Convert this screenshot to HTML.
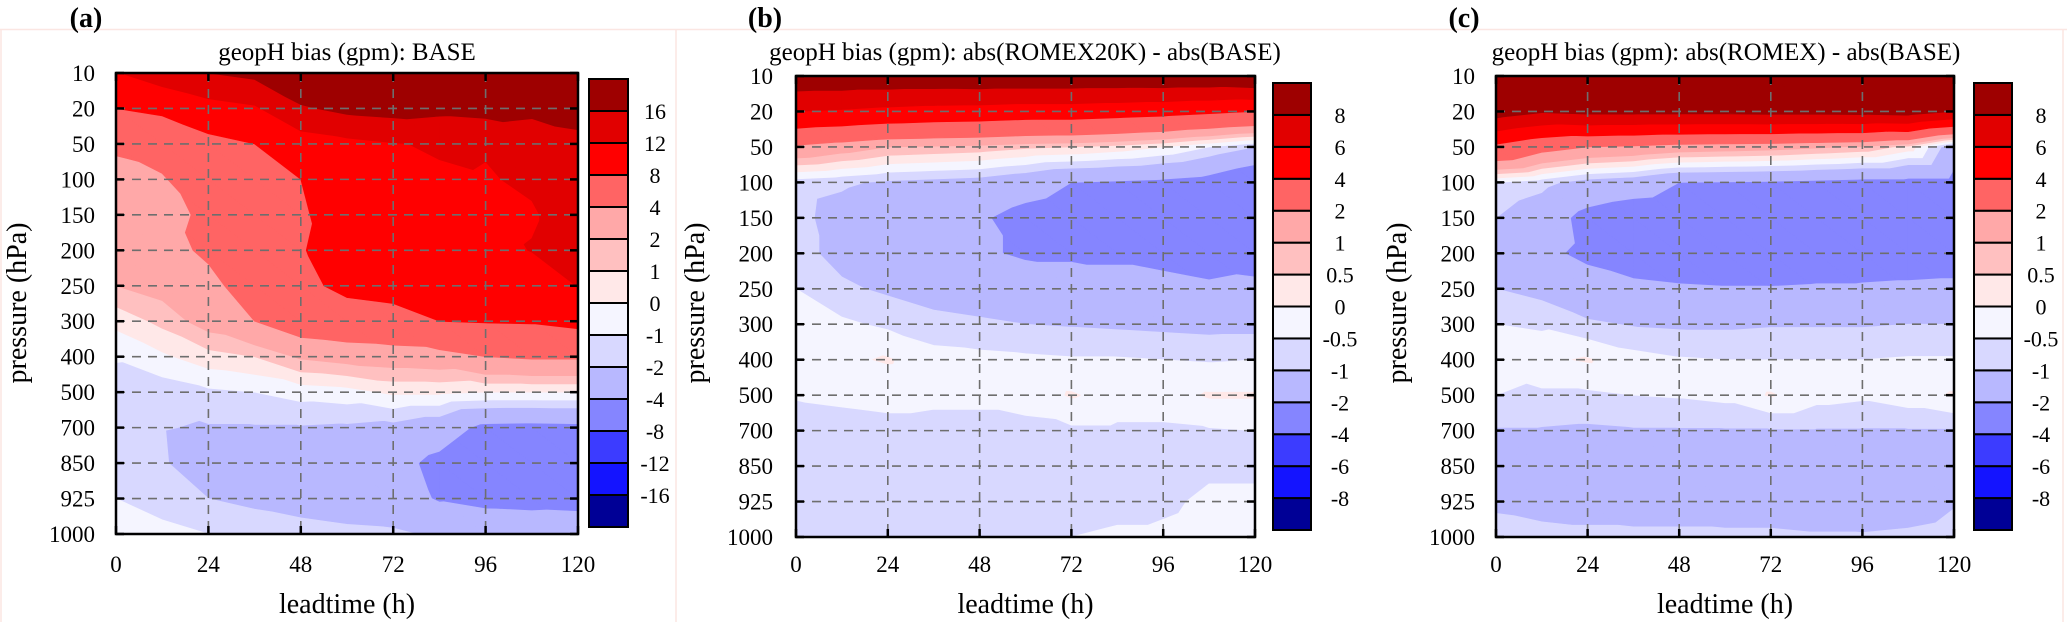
<!DOCTYPE html>
<html><head><meta charset="utf-8"><style>
html,body{margin:0;padding:0;background:#fff;}
svg{display:block;}
svg text{font-family:"Liberation Serif","Times New Roman",serif;}
</style></head><body>
<svg id="fig" width="2067" height="622" viewBox="0 0 2067 622" xmlns="http://www.w3.org/2000/svg">
<rect x="0" y="0" width="2067" height="622" fill="#fff"/>
<line x1="0" y1="29.5" x2="2067" y2="29.5" stroke="#fbe6e2" stroke-width="1.5"/>
<line x1="1" y1="29" x2="1" y2="622" stroke="#fbe6e2" stroke-width="1.5"/>
<line x1="676" y1="29" x2="676" y2="622" stroke="#fbe6e2" stroke-width="1.5"/>
<line x1="2063" y1="29" x2="2063" y2="622" stroke="#fbe6e2" stroke-width="1.5"/>
</svg>
<script>
const hours = [0,12,24,36,48,60,72,84,96,108,120];
const xTicks = [0,24,48,72,96,120];
const pressureLabels = ["10","20","50","100","150","200","250","300","400","500","700","850","925","1000"];
const boundsA = [-16,-12,-8,-4,-2,-1,0,1,2,4,8,12,16];
const boundsBC = [-8,-6,-4,-2,-1,-0.5,0,0.5,1,2,4,6,8];
const cbLabelsA = ["16","12","8","4","2","1","0","-1","-2","-4","-8","-12","-16"];
const cbLabelsBC = ["8","6","4","2","1","0.5","0","-0.5","-1","-2","-4","-6","-8"];
const bandColors = ["#000096","#1414ff","#3c3cff","#8585ff","#b8b8ff","#d8d8ff","#f5f5ff","#ffe8e8","#ffc0c0","#ffa8a8","#ff6464","#ff0000","#e10000","#9e0000"];
const valuesA = [
[11.8,14,16,17,20,20,21,22,22,22,22],
[8.0,8.8,10.5,11.5,15.5,17,17.5,17,17.5,17,17.5],
[4.2,5.0,7.0,8.0,10,11,11.8,12.4,12.15,13.5,15],
[3.6,3.8,5.5,7,8.0,10.5,11,11.5,11.85,12.3,14],
[3.2,3.5,4.3,6.5,7.5,10,10.5,11,11.5,11.8,13],
[2.8,3.0,4.5,6,7.8,9.5,10,10.5,11,12.1,13],
[2.0,2.5,3.2,5.5,7,9,9.5,9.5,10,10,12.1],
[0.3,1.3,2.6,4.0,5.5,6.0,6.5,8.0,8.2,8.3,9],
[-0.9,-0.2,0.6,1.0,2.2,2.6,2.8,3.0,4.0,4.3,4.3],
[-1.5,-1.6,-1.2,-1.0,-0.6,-0.4,0.2,0.2,0.0,0.0,0.0],
[-1.8,-1.95,-2.1,-2.1,-2.1,-2.2,-2.4,-3.0,-4.5,-4.6,-4.5],
[-1.8,-1.9,-2.6,-2.8,-3.0,-3.2,-3.4,-4.5,-6,-6.2,-6.5],
[-1.0,-1.3,-2.0,-2.3,-2.6,-2.8,-3.0,-4.2,-4.8,-5.0,-5.2],
[-0.6,-0.8,-1.0,-1.3,-1.5,-1.7,-1.8,-2.2,-2.0,-2.1,-1.9]];
const valuesB = [
[9.5,9.5,9.5,9.5,9.6,9.6,9.6,9.6,9.7,9.7,10],
[6.0,5.8,5.5,5.3,5.2,5.0,5.0,4.8,4.6,4.3,4.0],
[1.8,1.4,1.0,0.9,0.8,0.6,0.5,0.3,0.0,-0.5,-1.0],
[-0.75,-0.9,-1.1,-1.2,-1.3,-1.6,-2.0,-2.1,-2.2,-2.4,-3.0],
[-0.8,-1.3,-1.6,-1.7,-1.9,-2.3,-2.5,-2.6,-2.7,-2.8,-3.0],
[-0.8,-1.2,-1.6,-1.8,-1.9,-2.1,-2.1,-2.1,-2.2,-2.3,-2.4],
[-0.5,-0.9,-1.1,-1.3,-1.4,-1.6,-1.7,-1.8,-1.8,-1.9,-1.8],
[-0.3,-0.4,-0.6,-0.8,-0.9,-1.0,-1.05,-1.1,-1.15,-1.2,-1.2],
[-0.2,-0.1,0.05,-0.3,-0.35,-0.4,-0.45,-0.45,-0.5,-0.55,-0.5],
[-0.45,-0.4,-0.35,-0.4,-0.4,-0.3,0.05,-0.2,-0.2,0.05,0.05],
[-0.8,-0.7,-0.65,-0.65,-0.65,-0.65,-0.6,-0.6,-0.6,-0.55,-0.5],
[-0.7,-0.75,-0.75,-0.75,-0.75,-0.75,-0.7,-0.7,-0.65,-0.55,-0.55],
[-0.7,-0.75,-0.8,-0.8,-0.8,-0.75,-0.65,-0.6,-0.55,-0.45,-0.45],
[-0.75,-0.8,-0.85,-0.85,-0.85,-0.7,-0.5,-0.45,-0.45,-0.4,-0.35]];
const valuesC = [
[9.5,9.5,9.5,9.5,9.5,9.5,9.5,9.5,9.5,9.5,9.5],
[9.0,8.2,8.5,8.5,8.5,8.5,8.6,8.6,8.7,8.9,8.0],
[3.6,2.5,2.0,1.8,1.5,1.4,1.3,1.1,0.9,0.3,-1.5],
[-0.5,-0.8,-1.3,-1.5,-2.0,-2.05,-2.1,-2.2,-2.3,-2.3,-2.3],
[-1.0,-1.5,-2.3,-2.6,-2.7,-2.8,-2.8,-2.9,-2.9,-2.9,-2.9],
[-1.5,-1.8,-2.2,-2.5,-2.6,-2.6,-2.7,-2.6,-2.5,-2.5,-2.5],
[-1.0,-1.2,-1.6,-1.8,-1.9,-1.95,-1.95,-1.9,-1.9,-1.85,-1.8],
[-0.5,-0.6,-0.9,-1.05,-1.1,-1.1,-1.05,-1.05,-1.05,-1.0,-1.0],
[-0.3,-0.1,0.05,-0.3,-0.45,-0.5,-0.5,-0.5,-0.5,-0.45,-0.45],
[-0.5,-0.6,-0.6,-0.5,-0.45,-0.35,0.05,-0.3,-0.4,-0.2,0.05],
[-1.05,-1.05,-1.1,-1.05,-1.05,-1.05,-1.05,-1.05,-1.05,-1.05,-1.05],
[-1.4,-1.5,-1.5,-1.5,-1.5,-1.5,-1.5,-1.5,-1.5,-1.45,-1.4],
[-1.1,-1.2,-1.2,-1.25,-1.25,-1.3,-1.3,-1.3,-1.35,-1.3,-1.05],
[-0.8,-0.85,-0.9,-0.9,-0.9,-0.9,-0.9,-0.95,-0.95,-0.9,-0.8]];

const NS = "http://www.w3.org/2000/svg";
const FONT = '"Liberation Serif", "Times New Roman", serif';
const fig = document.getElementById('fig');
function mk(tag, attrs, parent, txt){
  const e = document.createElementNS(NS, tag);
  for (const k in attrs) e.setAttribute(k, attrs[k]);
  if (tag === 'text') e.setAttribute('font-family', FONT);
  if (txt !== undefined) e.textContent = txt;
  (parent||fig).appendChild(e);
  return e;
}
function clip(poly, f){
  const out=[]; const n=poly.length;
  for(let i=0;i<n;i++){
    const a=poly[i], b=poly[(i+1)%n];
    const fa=f(a), fb=f(b);
    if(fa>=0) out.push(a);
    if((fa>=0)!==(fb>=0)){
      const t=fa/(fa-fb);
      out.push({x:a.x+t*(b.x-a.x), y:a.y+t*(b.y-a.y), v:a.v+t*(b.v-a.v)});
    }
  }
  return out;
}
function panel(p){
  const g = mk('g', {});
  
  
  const xS = h => p.L + (h - 0) / 120 * (p.R - p.L);
  const yS = r => p.T + r / (pressureLabels.length - 1) * (p.B - p.T);
  const vals = p.values, bounds = p.bounds;
  const paths = bandColors.map(() => "");
  for (let r = 0; r < vals.length - 1; r++) {
    for (let c = 0; c < hours.length - 1; c++) {
      const P = (rr, cc) => ({x: xS(hours[cc]), y: yS(rr), v: vals[rr][cc]});
      const tris = [[P(r,c),P(r,c+1),P(r+1,c+1)],[P(r,c),P(r+1,c+1),P(r+1,c)]];
      for (const tri of tris) {
        for (let k = 0; k < bandColors.length; k++) {
          const lo = k === 0 ? -1e9 : bounds[k-1];
          const hi = k === bandColors.length - 1 ? 1e9 : bounds[k];
          let poly = clip(tri, q => q.v - lo);
          if (poly.length < 3) continue;
          poly = clip(poly, q => hi - q.v);
          if (poly.length < 3) continue;
          paths[k] += "M" + poly.map(q => q.x.toFixed(2) + "," + q.y.toFixed(2)).join("L") + "Z";
        }
      }
    }
  }
  paths.forEach((d, k) => {
    if (!d) return;
    const e = mk('path', {d: d, fill: bandColors[k], stroke: bandColors[k], 'stroke-width': 0.7, 'stroke-linejoin': 'round'}, g);
    
    
  });
  for (let i = 1; i < pressureLabels.length - 1; i++) {
    const e = mk('line', {x1: p.L, x2: p.R, y1: yS(i), y2: yS(i), stroke: '#6e6e6e', 'stroke-width': 1.6, 'stroke-dasharray': '9,7'}, g);
    
    
  }
  for (let i = 1; i < xTicks.length - 1; i++) {
    const e = mk('line', {x1: xS(xTicks[i]), x2: xS(xTicks[i]), y1: p.T, y2: p.B, stroke: '#6e6e6e', 'stroke-width': 1.6, 'stroke-dasharray': '9,7'}, g);
    
    
  }
  for (let i = 0; i < pressureLabels.length; i++) {
    const y = yS(i);
    mk('line', {x1: p.L, x2: p.L + 8, y1: y, y2: y, stroke: '#000', 'stroke-width': 2.5}, g);
    mk('line', {x1: p.R - 8, x2: p.R, y1: y, y2: y, stroke: '#000', 'stroke-width': 2.5}, g);
    const t = mk('text', {x: p.yLabRight, y: y + 8, 'font-size': 23, 'text-anchor': 'end', fill: '#000'}, g, pressureLabels[i]);
    
    
  }
  for (let i = 0; i < xTicks.length; i++) {
    const x = xS(xTicks[i]);
    mk('line', {x1: x, x2: x, y1: p.T, y2: p.T + 8, stroke: '#000', 'stroke-width': 2.5}, g);
    mk('line', {x1: x, x2: x, y1: p.B - 8, y2: p.B, stroke: '#000', 'stroke-width': 2.5}, g);
    const t = mk('text', {x: x, y: 572, 'font-size': 23, 'text-anchor': 'middle', fill: '#000'}, g, String(xTicks[i]));
    
    
  }
  const fr = mk('rect', {x: p.L, y: p.T, width: p.R - p.L, height: p.B - p.T, fill: 'none', stroke: '#000', 'stroke-width': 2.5}, g);
  
  
  const n = bandColors.length, bh = (p.cbB - p.cbT) / n;
  for (let k = 0; k < n; k++) {
    const e = mk('rect', {x: p.cbL, y: p.cbT + (n - 1 - k) * bh, width: p.cbR - p.cbL, height: bh, fill: bandColors[k], stroke: '#000', 'stroke-width': 2}, g);
    
    
  }
  for (let j = 0; j < p.cbLabels.length; j++) {
    const t = mk('text', {x: p.cbLab, y: p.cbT + (j + 1) * bh + 8, 'font-size': 22, 'text-anchor': 'middle', fill: '#000'}, g, p.cbLabels[j]);
    
    
  }
  const ti = mk('text', {x: p.titleX, y: 60, 'font-size': 25, 'text-anchor': 'middle', fill: '#000'}, g, p.title);
  
  
  const xl = mk('text', {x: (p.L + p.R) / 2, y: 613, 'font-size': 28, 'text-anchor': 'middle', fill: '#000'}, g, 'leadtime (h)');
  
  
  const yl = mk('text', {x: 0, y: 0, 'font-size': 28, 'text-anchor': 'middle', fill: '#000', transform: 'translate(' + p.yTitleX + ',303) rotate(-90)'}, g, 'pressure (hPa)');
  
  
  const lt = mk('text', {x: p.letterX, y: 27, 'font-size': 28, 'font-weight': 'bold', 'text-anchor': 'middle', fill: '#000'}, g, p.letter);
  
  
}
panel({name:'panel-a', values:valuesA, bounds:boundsA, cbLabels:cbLabelsA, L:116, R:578, T:73, B:534,
  cbL:589, cbR:628, cbT:79, cbB:527, cbLab:655, titleX:347, title:'geopH bias (gpm): BASE', yLabRight:95, yTitleX:26, letterX:86, letter:'(a)'});
panel({name:'panel-b', values:valuesB, bounds:boundsBC, cbLabels:cbLabelsBC, L:796, R:1255, T:76, B:537,
  cbL:1273, cbR:1311, cbT:83, cbB:530, cbLab:1340, titleX:1025, title:'geopH bias (gpm): abs(ROMEX20K) - abs(BASE)', yLabRight:773, yTitleX:704, letterX:765, letter:'(b)'});
panel({name:'panel-c', values:valuesC, bounds:boundsBC, cbLabels:cbLabelsBC, L:1496, R:1954, T:76, B:537,
  cbL:1974, cbR:2012, cbT:83, cbB:530, cbLab:2041, titleX:1726, title:'geopH bias (gpm): abs(ROMEX) - abs(BASE)', yLabRight:1475, yTitleX:1406, letterX:1464, letter:'(c)'});
</script>
</body></html>
